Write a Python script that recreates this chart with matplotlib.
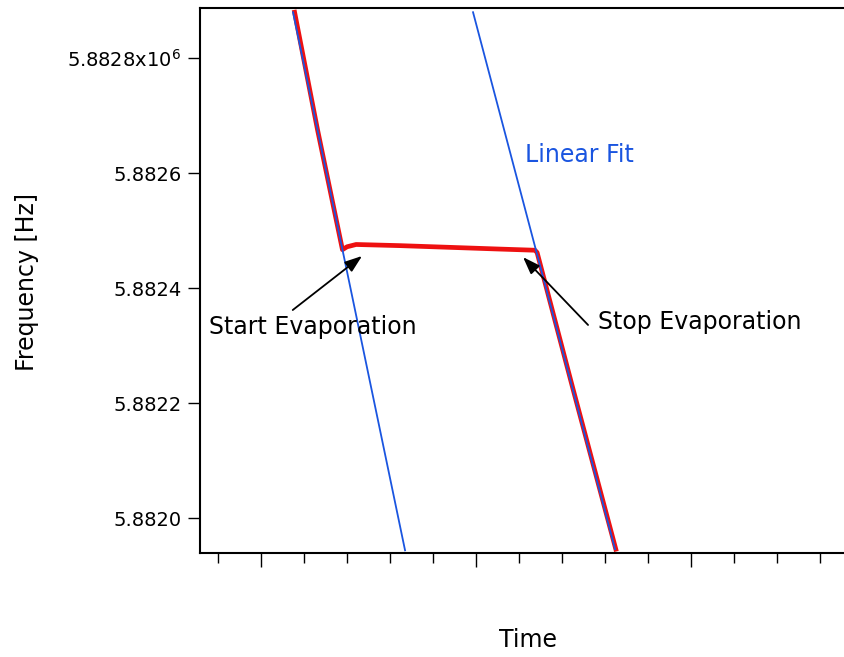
import matplotlib.pyplot as plt
from matplotlib.ticker import FixedLocator, FixedFormatter, MultipleLocator

# QCM frequency trace (arbitrary time units)
t_meas = [0.78, 1.315, 1.893, 2.00, 2.21, 3.23, 4.40, 5.56, 6.37, 6.42, 7.25, 8.25]
f_meas = [5882880, 5882675, 5882467, 5882472, 5882476, 5882474, 5882471, 5882468, 5882466, 5882462, 5882226, 5881946]

# linear fits before / after evaporation
fit1_t = [0.744, 3.349]
fit1_f = [5882880, 5881944]
fit2_t = [4.930, 8.233]
fit2_f = [5882880, 5881946]

yticks = [5882000, 5882200, 5882400, 5882600, 5882800]
ytick_labels = ["5.8820", "5.8822", "5.8824", "5.8826", r"5.8828x10$^{6}$"]

plt.rcParams['font.family'] = 'DejaVu Sans'
blue = '#1a55e0'

fig = plt.figure(figsize=(8.44, 6.57), dpi=100)
ax = fig.add_axes([0.237, 0.158, 0.782, 0.8295])

ax.plot(t_meas, f_meas, color='#ee1111', lw=3.4, zorder=2, solid_joinstyle='round')
ax.plot(fit1_t, fit1_f, color=blue, lw=1.3, zorder=3)
ax.plot(fit2_t, fit2_f, color=blue, lw=1.3, zorder=3)

ax.set_xlim(-1.419, 13.93)
ax.set_ylim(5881939, 5882887)

ax.yaxis.set_major_locator(FixedLocator(yticks))
ax.yaxis.set_major_formatter(FixedFormatter(ytick_labels))
ax.xaxis.set_major_locator(MultipleLocator(5))
ax.xaxis.set_minor_locator(MultipleLocator(1))
ax.set_xticklabels([])
ax.tick_params(axis='y', length=8.5, width=1.0, labelsize=14, direction='out', pad=5)
ax.tick_params(axis='x', which='major', length=10, width=1.0, direction='out')
ax.tick_params(axis='x', which='minor', length=7.5, width=1.0, direction='out')
ax.tick_params(right=False, top=False)
for s in ax.spines.values():
    s.set_linewidth(1.5)
ax.spines['right'].set_visible(False)

arrow = dict(arrowstyle='-|>,head_length=0.7,head_width=0.25', color='black',
             lw=1.3, mutation_scale=15, shrinkA=0, shrinkB=0)

ax.text(6.14, 5882631, "Linear Fit", color=blue, fontsize=17, ha='left', va='center')

ax.text(-1.209, 5882332, "Start Evaporation", fontsize=17, ha='left', va='center')
ax.annotate("", xy=(2.349, 5882456), xytext=(0.737, 5882362), arrowprops=arrow)

ax.text(7.837, 5882341, "Stop Evaporation", fontsize=17, ha='left', va='center')
ax.annotate("", xy=(6.093, 5882454), xytext=(7.605, 5882336), arrowprops=arrow)

fig.text(27/844, 1 - 282/657, "Frequency [Hz]", rotation=90, fontsize=17, ha='center', va='center')
fig.text(528/844, 1 - 640/657, "Time", fontsize=17, ha='center', va='center')

fig.savefig("out.png", dpi=100)
